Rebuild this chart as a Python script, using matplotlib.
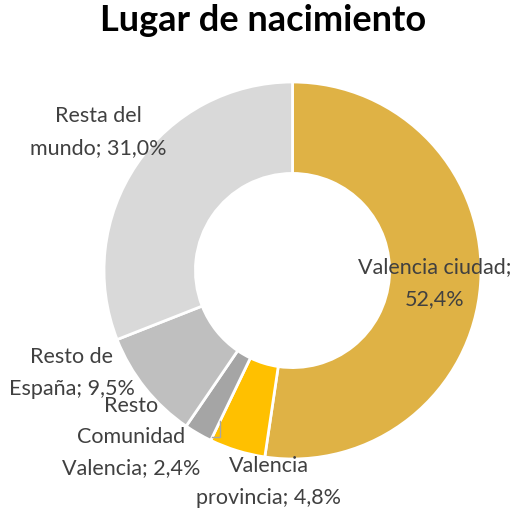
import matplotlib
matplotlib.use('Agg')
import matplotlib.pyplot as plt

# Datos
categorias = ['Valencia ciudad', 'Valencia provincia', 'Resto Comunidad Valencia',
              'Resto de España', 'Resta del mundo']
porcentajes = [52.4, 4.8, 2.4, 9.5, 31.0]
etiquetas = ['Valencia ciudad;\n52,4%', 'Valencia\nprovincia; 4,8%',
             'Resto\nComunidad\nValencia; 2,4%', 'Resto de\nEspaña; 9,5%',
             'Resta del\nmundo; 31,0%']
colores = ['#DFB245', '#FFC000', '#A5A5A5', '#BFBFBF', '#D9D9D9']

# posiciones de las etiquetas en pixeles (x, y desde arriba)
pos_etiquetas = [(435, 283), (269, 482), (131, 437), (72, 373), (98, 132)]

W, H = 527, 519
CX, CY, R = 292.5, 270.5, 188.5


def px(x, y):
    return (x - CX) / R, (CY - y) / R


plt.rcParams['font.family'] = ['Lato', 'DejaVu Sans']

fig = plt.figure(figsize=(W / 100, H / 100), dpi=100)
ax = fig.add_axes([0, 0, 1, 1])

ax.pie(porcentajes, colors=colores, startangle=90, counterclock=False,
       radius=1, wedgeprops=dict(width=0.485, edgecolor='white', linewidth=2))

# la escala ya es igual en x e y
ax.set_aspect('auto')
ax.set_xlim(-CX / R, (W - CX) / R)
ax.set_ylim(-(H - CY) / R, CY / R)
ax.axis('off')

for txt, (x, y) in zip(etiquetas, pos_etiquetas):
    xd, yd = px(x, y)
    ax.text(xd, yd, txt, ha='center', va='center', fontsize=15.5,
            color='#404040', linespacing=1.7)

# linea guia
p1, p2, p3 = px(212, 437), px(220, 437), px(220, 421)
ax.plot([p1[0], p2[0], p3[0]], [p1[1], p2[1], p3[1]], color='#A6A6A6', lw=1)

tx, ty = px(W / 2, 21)
ax.text(tx, ty, 'Lugar de nacimiento', ha='center', va='center',
        fontsize=26, fontweight='bold', color='black')

fig.savefig('out.png', dpi=100)
